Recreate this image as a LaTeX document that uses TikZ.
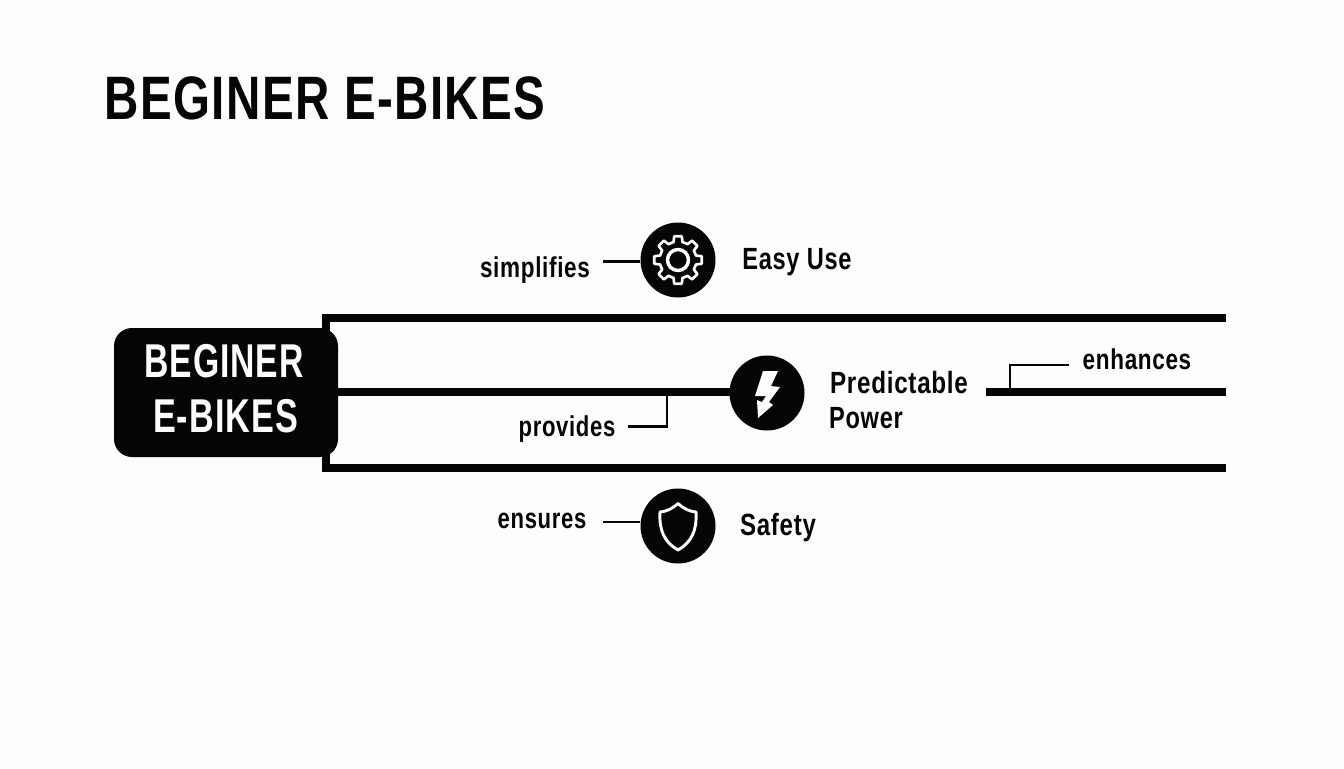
\documentclass[tikz,border=0pt]{standalone}
\usepackage{fontspec}
\setmainfont{Liberation Sans}
\definecolor{ink}{HTML}{050505}
\definecolor{paper}{HTML}{FDFDFD}
\newcommand{\cond}[3]{\fontsize{#1}{#1}\selectfont\bfseries\addfontfeature{LetterSpace=3}\scalebox{#2}[1]{#3}}
\tikzset{
  x=0.75pt,y=-0.75pt,
  txt/.style={inner sep=0pt,outer sep=0pt,text=ink,anchor=center},
  disc/.style={circle,fill=ink,draw=none,minimum size=56.25pt,inner sep=0pt},
  heavy/.style={draw=ink,line width=6pt},
  thin link/.style={draw=ink,line width=1.6pt},
  glyph/.style={draw=paper,line width=2pt,line join=round}
}
\begin{document}
\begin{tikzpicture}
\useasboundingbox (0,0) rectangle (1344,768);
\fill[paper] (0,0) rectangle (1344,768);
\node[txt] (title) at (325,98) {\cond{46}{0.775}{BEGINER E-BIKES}};
% frame
\coordinate (ftr) at (1226,318);
\coordinate (fbr) at (1226,468);
\coordinate (mr) at (1226,392);
\coordinate (ml) at (986,392);
\draw[heavy,line join=miter] (ftr) -- (326,318) -- (326,468) -- (fbr);
% root
\node[fill=ink,rounded corners=13.5pt,minimum width=168pt,minimum height=96.75pt,inner sep=0pt] (root) at (226,392.5) {};
\node[txt] (l1) at (224,361) {\cond{35.6}{0.71}{\textcolor{paper}{BEGINER}}};
\node[txt] (l2) at (225.5,416) {\cond{35.6}{0.72}{\textcolor{paper}{E-BIKES}}};
% discs
\node[disc] (gear) at (678,260) {};
\node[disc] (bolt) at (767,393) {};
\node[disc] (shield) at (678,526) {};
\coordinate (rootout) at (root.east |- mr);
\coordinate (boltin) at (bolt.center |- mr);
\draw[heavy] (rootout) -- (boltin);
\draw[heavy] (ml) -- (mr);
% labels
\node[txt] (simpl) at (535,270) {\cond{21.5}{0.785}{simplifies}};
\node[txt] (easy) at (797,262) {\cond{23}{0.77}{Easy Use}};
\node[txt] (prov) at (567,429) {\cond{21.5}{0.77}{provides}};
\node[txt] (pred) at (899,383) {\cond{23}{0.79}{Predictable}};
\node[txt] (pow) at (866,418) {\cond{23}{0.77}{Power}};
\node[txt] (enh) at (1137,359) {\cond{21.5}{0.785}{enhances}};
\node[txt] (ens) at (542,520.5) {\cond{21.5}{0.77}{ensures}};
\node[txt] (safe) at (778,528) {\cond{23}{0.785}{Safety}};
% thin connectors
\coordinate (s0) at (603,261.5);
\draw[thin link] (s0) -- (gear.west |- s0);
\coordinate (e0) at (603,522);
\draw[thin link] (e0) -- (shield.west |- e0);
\coordinate (p0) at (628,426.5);
\coordinate (p1) at (667,392);
\draw[thin link] (p0) -| (p1);
\coordinate (h0) at (1069,365);
\coordinate (h1) at (1010,392);
\draw[thin link] (h0) -| (h1);
% gear glyph
\begin{scope}[shift={(678,260)}]
\draw[glyph]
 \foreach \a in {0,45,...,315}{
  \ifnum\a=0 (\a-9:24) \else -- (\a-9:24) \fi
  -- (\a+9:24) -- (\a+14:18.5) -- (\a+31:18.5)
 } -- cycle;
\draw[glyph,line width=2.6pt] (0,0) circle (10.5);
\end{scope}
% bolt glyph
\fill[paper] (763,371) -- (778,371) -- (771,386) -- (780,387) -- (769,402) -- (773,405) -- (758,418) -- (757,400) -- (762,402) -- (766,396) -- (755,396) -- cycle;
% shield glyph
\draw[glyph,line width=2.2pt] (678,503.5) .. controls (684,509) and (690,511.5) .. (696,512) .. controls (697,530) and (692,542) .. (678,550) .. controls (664,542) and (659,530) .. (660,512) .. controls (666,511.5) and (672,509) .. (678,503.5) -- cycle;
\end{tikzpicture}
\end{document}
